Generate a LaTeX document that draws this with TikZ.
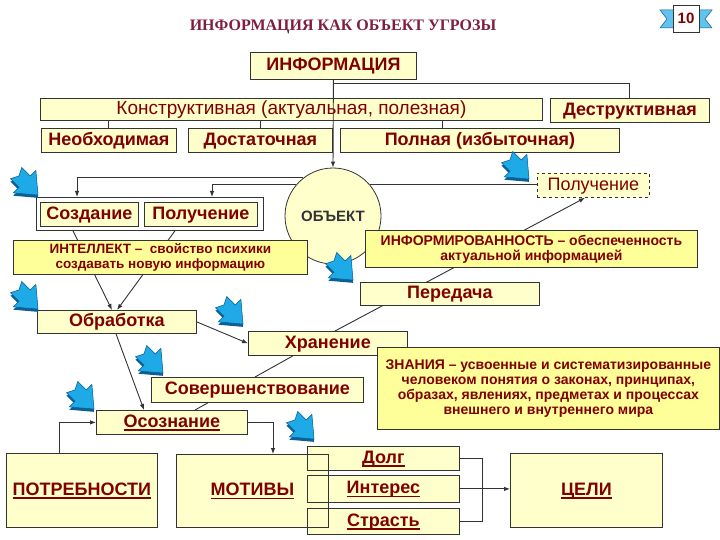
\documentclass[tikz,border=0pt]{standalone}
\usepackage{fontspec}
\setmainfont{Liberation Sans}
\newfontfamily\titlefont{Liberation Serif}
\usetikzlibrary{arrows.meta,calc,backgrounds}
\definecolor{cream}{HTML}{FFFFCC}
\definecolor{yel}{HTML}{FFFF99}
\definecolor{dred}{HTML}{800000}
\definecolor{ttl}{HTML}{7F1F3F}
\definecolor{sky}{HTML}{1EAAE6}
\definecolor{skyd}{HTML}{0B5F95}
\definecolor{brd}{HTML}{333333}
\newsavebox{\ulbox}
\newcommand\ulx[1]{\sbox\ulbox{#1}\rlap{\vrule height -2pt depth 3.4pt width \wd\ulbox}\usebox\ulbox}
\tikzset{
  box/.style={draw=brd, line width=0.8pt, fill=cream, text=dred, inner sep=0pt,
    anchor=north west, align=center, font=\bfseries\fontsize{18}{20}\selectfont},
  one/.style={text height=13pt, text depth=3.5pt},
  sz/.style 2 args={minimum width=#1pt, minimum height=#2pt},
  small/.style={font=\bfseries\fontsize{14}{15}\selectfont},
  ln/.style={draw=brd, line width=0.9pt},
  arr/.style={ln, -{Latex[length=6pt,width=4.5pt]}},
  barrow/.pic={
    \fill[skyd, rotate=-45] (-12,10) -- (0,10) -- (0,18) -- (19,2) -- (0,-14) -- (0,-6) -- (-12,-6) -- (-8,2) -- cycle;
    \filldraw[fill=sky, draw=skyd, line width=0.5pt, rotate=-45] (-14,8) -- (-2,8) -- (-2,16) -- (17,0) -- (-2,-16) -- (-2,-8) -- (-14,-8) -- (-10,0) -- cycle;
  }
}
\begin{document}
\begin{tikzpicture}[x=1pt, y=-1pt]
\useasboundingbox (0,0) rectangle (720,540);
\begin{scope}[on background layer]
  \fill[white] (0,0) rectangle (720,540);
\end{scope}

% title and badge
\node[font=\titlefont\bfseries\fontsize{16}{18}\selectfont, text=ttl] (title) at (343,27) {ИНФОРМАЦИЯ КАК ОБЪЕКТ УГРОЗЫ};
\filldraw[fill=sky!70, draw=skyd, line width=0.5pt] (660,10) -- (680,10) -- (680,28) -- (660,28) -- (667,19) -- cycle;
\filldraw[fill=sky!70, draw=skyd, line width=0.5pt] (712,10) -- (692,10) -- (692,28) -- (712,28) -- (705,19) -- cycle;
\node[draw=brd, fill=white, line width=0.7pt, minimum width=26pt, minimum height=27pt, inner sep=0pt,
  text=dred, font=\bfseries\fontsize{15}{17}\selectfont] (badge) at (686,18.5) {10};

% top tree
\node[box, one, sz={166}{27}] (info) at (250,52) {ИНФОРМАЦИЯ};
\node[box, one, sz={502}{22}, font=\fontsize{19}{20}\selectfont] (konstr) at (40,98) {Конструктивная (актуальная, полезная)};
\node[box, one, sz={159}{24}] (destr) at (550,98) {Деструктивная};
\node[box, one, sz={135}{24}] (neobh) at (41,128) {Необходимая};
\node[box, one, sz={144}{24}] (dostat) at (188,128) {Достаточная};
\node[box, one, sz={279}{24}] (poln) at (340,128) {Полная (избыточная)};
\node[box, one, sz={112}{24}, dashed, font=\fontsize{18}{20}\selectfont] (poluch2) at (537,173) {Получение};

\node[draw=brd, line width=0.8pt, fill=white, sz={227}{33}, anchor=north west] (pair) at (36,197) {};
\node[box, one, sz={98}{24}] (sozd) at (40,202) {Создание};
\node[box, one, sz={113}{24}] (poluch1) at (144,202) {Получение};

\node[circle, draw=brd, line width=0.8pt, fill=cream, minimum size=96pt, inner sep=0pt,
  text=brd, font=\bfseries\fontsize{15}{17}\selectfont] (obj) at (333,216) {ОБЪЕКТ};

\node[box, font=\bfseries\fontsize{13.5}{15}\selectfont, fill=yel, sz={294}{34}] (intel) at (13,240) {ИНТЕЛЛЕКТ –\ \ свойство психики\\создавать новую информацию};
\node[box, small, fill=yel, sz={332}{37}] (inform) at (365,230) {ИНФОРМИРОВАННОСТЬ – обеспеченность\\актуальной информацией};
\node[box, one, sz={179}{23}] (pered) at (360,282) {Передача};
\node[box, one, sz={159}{23}] (obrab) at (37,310) {Обработка};
\node[box, one, sz={159}{24}] (khran) at (248,331) {Хранение};
\node[box, small, fill=yel, sz={342}{82}] (znan) at (377,347) {ЗНАНИЯ – усвоенные и систематизированные\\человеком понятия о законах, принципах,\\образах, явлениях, предметах и процессах\\внешнего и внутреннего мира};
\node[box, one, sz={212}{25}] (sover) at (151,377) {Совершенствование};
\node[box, one, sz={151}{24}] (osozn) at (96,410) {\ulx{Осознание}};
\node[box, one, sz={151}{74}] (potr) at (6,453) {\ulx{ПОТРЕБНОСТИ}};
\node[box, one, sz={152}{73}] (motiv) at (176,454) {\ulx{МОТИВЫ}};
\node[box, one, sz={152}{24}] (dolg) at (307,446) {\ulx{Долг}};
\node[box, one, sz={152}{27}] (inter) at (307,475) {\ulx{Интерес}};
\node[box, one, sz={152}{26}] (strast) at (307,508) {\ulx{Страсть}};
\draw[draw=brd, line width=0.8pt] (motiv.north west) rectangle (motiv.south east);
\node[box, one, sz={152}{74}] (celi) at (510,453) {\ulx{ЦЕЛИ}};

% connectors behind boxes
\begin{scope}[on background layer]
  \draw[arr] ([xshift=37pt]pair.south west) -- ([xshift=75pt]obrab.north west);
  \draw[arr] ([xshift=139pt]pair.south west) -- ([xshift=80pt]obrab.north west);
  \draw[arr] ([xshift=87pt]khran.north west) -- ([xshift=48pt]poluch2.south west);
\end{scope}

% connectors
\draw[arr] (info.south) -- (obj.north);
\draw[ln] ([yshift=-4pt]info.south) -| (destr.north);
\draw[ln] (neobh.north) -- (neobh.north |- konstr.south);
\draw[ln] (dostat.north) -- (dostat.north |- konstr.south);
\draw[ln] ([xshift=102pt]poln.north west) -- ([xshift=102pt]poln.north west |- konstr.south);
\draw[arr] (obj.128) -| ([xshift=41pt]pair.north west);
\draw[arr] (obj.140) -| ([xshift=176pt]pair.north west);
\draw[ln] (obj.40) -- (obj.40 -| poluch2.west);
\draw[arr] (obrab.east) -- (khran.west);
\draw[ln] ([xshift=45pt]khran.south west) -- ([xshift=104pt]sover.north west);
\draw[ln] ([xshift=57pt]sover.south west) -- ([xshift=99pt]osozn.north west);
\draw[arr] ([xshift=79pt]obrab.south west) -- ([xshift=48pt]osozn.north west);
\draw[arr] ([xshift=53pt]potr.north west) |- (osozn.west);
\draw[arr] (osozn.east) -| ([xshift=97pt]motiv.north west);
\draw[ln] (dolg.east) -| ([xshift=23pt]strast.east) -- (strast.east);
\draw[arr] (inter.east) -- (inter.east -| celi.west);

% decorative blue arrows
\pic at (26,183) {barrow};
\pic at (26,297) {barrow};
\pic at (231,312) {barrow};
\pic at (341,268) {barrow};
\pic at (517,167) {barrow};
\pic at (151,361) {barrow};
\pic at (82,397) {barrow};
\pic at (302,427) {barrow};
\end{tikzpicture}
\end{document}
